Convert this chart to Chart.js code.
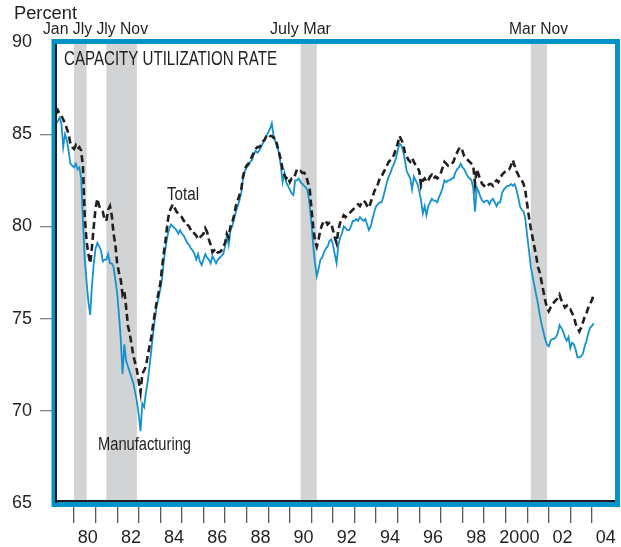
<!DOCTYPE html>
<html>
<head>
<meta charset="utf-8">
<script src="https://cdn.jsdelivr.net/npm/chart.js@4/dist/chart.umd.min.js"></script>
<style>
  html, body { margin: 0; padding: 0; background: #ffffff; }
  canvas { display: block; }
</style>
</head>
<body>
<canvas id="c" width="621" height="547"></canvas>
<script>
// ---- Data (monthly, Mar 1979 .. Feb 2004) ----
const startYear = 1979;
const startMonth = 3;

const totalRate = [
  /*1979*/ 86.1, 86.3, 86.1, 86.0, 85.8, 85.6, 85.3, 85.0, 84.5, 84.3,
  /*1980*/ 84.2, 84.4, 84.2, 84.3, 84.1, 83.2, 80.5, 79.2, 78.5, 78.0, 78.9, 80.0,
  /*1981*/ 81.0, 81.5, 81.1, 80.9, 80.8, 80.4, 80.3, 80.9, 81.1, 80.6, 79.6, 79.0,
  /*1982*/ 78.0, 77.5, 77.1, 76.3, 76.5, 75.6, 74.6, 74.2, 73.6, 73.0, 72.6, 72.2,
  /*1983*/ 71.6, 71.0, 72.0, 72.2, 72.4, 73.0, 73.5, 74.0, 74.7, 75.3, 75.9, 76.4,
  /*1984*/ 76.9, 77.8, 78.6, 79.3, 80.2, 80.8, 81.0, 81.2, 81.0, 80.8, 80.7, 80.6,
  /*1985*/ 80.5, 80.3, 80.3, 80.1, 80.0, 79.8, 79.8, 79.6, 79.5, 79.3, 79.4, 79.5,
  /*1986*/ 79.6, 79.9, 79.7, 79.3, 79.0, 78.6, 78.7, 78.5, 78.6, 78.6, 78.7, 78.9,
  /*1987*/ 79.1, 79.6, 79.4, 80.0, 80.2, 80.6, 81.1, 81.4, 81.7, 82.0, 82.7, 83.1,
  /*1988*/ 83.3, 83.4, 83.6, 83.8, 84.0, 84.2, 84.3, 84.3, 84.4, 84.6, 84.7, 84.9,
  /*1989*/ 85.0, 84.9, 84.9, 84.8, 84.8, 84.4, 84.0, 83.6, 83.1, 82.8, 82.6, 82.7,
  /*1990*/ 82.4, 82.6, 82.6, 82.8, 83.1, 83.0, 83.0, 82.9, 82.9, 82.8, 82.4, 82.1,
  /*1991*/ 81.0, 80.0, 79.2, 78.9, 79.3, 79.8, 80.1, 80.3, 80.3, 80.1, 80.2, 80.2,
  /*1992*/ 79.8, 79.4, 79.1, 79.8, 80.2, 80.4, 80.6, 80.5, 80.6, 80.7, 80.8, 80.9,
  /*1993*/ 81.0, 81.1, 81.2, 81.1, 81.3, 81.4, 81.3, 81.1, 81.0, 81.3, 81.6, 81.9,
  /*1994*/ 82.1, 82.3, 82.6, 82.7, 82.9, 83.1, 83.3, 83.5, 83.6, 83.7, 83.9, 84.2,
  /*1995*/ 84.5, 84.9, 84.7, 84.5, 84.0, 83.8, 83.6, 83.5, 83.7, 83.5, 83.3, 83.2,
  /*1996*/ 83.0, 82.2, 82.5, 82.6, 82.4, 82.5, 82.7, 82.8, 82.6, 82.7, 82.6, 82.7,
  /*1997*/ 82.9, 83.2, 83.5, 83.4, 83.3, 83.4, 83.4, 83.5, 83.8, 84.0, 84.2, 84.3,
  /*1998*/ 84.1, 83.8, 83.7, 83.6, 83.5, 83.4, 83.3, 82.3, 83.1, 82.8, 82.5, 82.3,
  /*1999*/ 82.2, 82.3, 82.2, 82.3, 82.3, 82.2, 82.4, 82.5, 82.4, 82.6, 82.8, 82.9,
  /*2000*/ 83.0, 83.1, 83.1, 83.3, 83.6, 83.3, 83.0, 82.8, 82.6, 82.5, 82.3, 81.9,
  /*2001*/ 81.2, 80.5, 79.9, 79.4, 78.9, 78.4, 77.8, 77.5, 77.0, 76.5, 76.0, 75.6,
  /*2002*/ 75.4, 75.6, 75.7, 75.9, 76.0, 76.1, 76.3, 76.0, 75.8, 75.6, 75.7, 75.5,
  /*2003*/ 75.5, 75.3, 75.1, 74.7, 74.5, 74.3, 74.5, 74.8, 75.1, 75.3, 75.6, 75.8,
  /*2004*/ 76.0, 76.3
];

const mfgRate = [
  /*1979*/ 85.6, 85.7, 85.9, 85.6, 84.3, 85.0, 84.7, 84.1, 83.4, 83.3,
  /*1980*/ 83.2, 83.4, 83.1, 83.2, 82.6, 80.2, 78.2, 77.0, 75.9, 75.2, 76.8, 78.0,
  /*1981*/ 78.8, 79.1, 78.9, 78.7, 78.1, 78.2, 78.2, 78.5, 78.0, 78.0, 77.8, 77.1,
  /*1982*/ 76.4, 75.2, 73.9, 72.0, 73.6, 72.7, 72.4, 72.1, 71.8, 71.5, 71.0, 70.5,
  /*1983*/ 69.8, 68.9, 70.4, 70.2, 71.0, 71.6, 72.4, 73.3, 74.2, 75.0, 75.7, 76.1,
  /*1984*/ 76.6, 77.2, 78.2, 78.9, 79.5, 79.9, 80.1, 80.0, 79.9, 79.8, 79.6, 79.8,
  /*1985*/ 79.6, 79.5, 79.3, 79.1, 79.0, 78.8, 78.7, 78.5, 78.2, 78.5, 78.1, 77.9,
  /*1986*/ 78.2, 78.5, 78.3, 78.2, 78.0, 78.4, 78.2, 78.0, 78.2, 78.3, 78.4, 78.5,
  /*1987*/ 78.9, 79.5, 79.0, 79.8, 80.0, 80.4, 80.8, 81.1, 81.4, 81.8, 82.6, 83.0,
  /*1988*/ 83.2, 83.3, 83.5, 83.6, 83.9, 84.1, 84.0, 84.1, 84.3, 84.5, 84.7, 84.9,
  /*1989*/ 85.1, 85.3, 85.6, 84.9, 84.6, 84.3, 84.0, 83.3, 82.4, 82.9, 82.4, 82.2,
  /*1990*/ 82.0, 81.8, 81.7, 82.5, 82.5, 82.6, 82.4, 82.3, 82.2, 82.1, 81.9, 81.2,
  /*1991*/ 80.2, 79.0, 78.0, 77.3, 77.7, 78.2, 78.3, 78.6, 78.8, 78.9, 79.2, 79.3,
  /*1992*/ 79.0, 78.5, 78.0, 79.0, 79.4, 79.6, 80.0, 79.9, 79.8, 79.8, 80.0, 80.3,
  /*1993*/ 80.3, 80.4, 80.3, 80.5, 80.4, 80.3, 80.4, 80.1, 79.8, 80.0, 80.4, 80.8,
  /*1994*/ 81.1, 81.2, 81.3, 81.3, 81.6, 82.0, 82.4, 82.7, 82.9, 83.2, 83.4, 83.7,
  /*1995*/ 84.1, 84.5, 84.4, 84.1, 83.6, 83.0, 82.8, 82.6, 82.0, 82.7, 82.5, 82.3,
  /*1996*/ 81.9, 81.4, 80.7, 81.1, 80.6, 81.1, 81.3, 81.5, 81.4, 81.4, 81.3, 81.6,
  /*1997*/ 81.8, 82.1, 82.5, 82.4, 82.5, 82.5, 82.6, 82.6, 82.9, 83.1, 83.2, 83.4,
  /*1998*/ 83.2, 83.1, 82.9, 82.7, 82.6, 82.5, 82.1, 80.8, 82.1, 81.9, 81.6, 81.4,
  /*1999*/ 81.3, 81.4, 81.4, 81.2, 81.4, 81.5, 81.3, 81.1, 81.3, 81.3, 81.8, 82.0,
  /*2000*/ 82.1, 82.2, 82.2, 82.3, 82.2, 82.3, 82.0, 81.6, 81.1, 80.9, 80.8, 80.4,
  /*2001*/ 79.5, 78.7, 77.8, 77.3, 76.8, 76.3, 75.8, 75.2, 74.7, 74.3, 73.9, 73.6,
  /*2002*/ 73.5, 73.8, 73.9, 73.9, 74.0, 74.2, 74.65, 74.5, 74.3, 74.0, 73.8, 74.0,
  /*2003*/ 73.4, 73.7, 73.6, 73.3, 72.9, 72.9, 72.95, 73.1, 73.5, 73.8, 74.2, 74.5,
  /*2004*/ 74.6, 74.75
];

// x-axis: year tick marks and labels (labels sit mid-year of even years)
const tickYears = [1980,1981,1982,1983,1984,1985,1986,1987,1988,1989,1990,1991,1992,
                   1993,1994,1995,1996,1997,1998,1999,2000,2001,2002,2003,2004];
const labelYears = [1980,1982,1984,1986,1988,1990,1992,1994,1996,1998,2000,2002,2004];
const xTickLabels = ['80','82','84','86','88','90','92','94','96','98','2000','02','04'];
const yTickValues = [65,70,75,80,85,90];

// recessions (start month, end month inclusive), as [year, month]
const recessionStart = [[1980,1],[1981,7],[1990,7],[2001,3]];
const recessionEnd   = [[1980,7],[1982,11],[1991,3],[2001,11]];

// ---- Build ----
const FONT = '"Liberation Sans", Arial, Helvetica, sans-serif';
const INK = '#231f20';
const BLUE = '#0093c9';

const monthX = totalRate.map((_, i) => startYear + (startMonth - 1 + i) / 12);
const toPoints = arr => arr.map((v, i) => ({ x: monthX[i], y: v }));

const tickValues = [];
tickYears.forEach(y => { tickValues.push(y); if (labelYears.includes(y)) tickValues.push(y + 0.5); });

function fitText(ctx, txt, x, y, size, w) {
  ctx.save();
  ctx.font = size + 'px ' + FONT;
  ctx.fillStyle = INK;
  ctx.textAlign = 'left';
  ctx.textBaseline = 'alphabetic';
  const m = ctx.measureText(txt).width;
  ctx.translate(x, y);
  ctx.scale(w / m, 1);
  ctx.fillText(txt, 0, 0);
  ctx.restore();
}

const framePlugin = {
  id: 'frame',
  beforeDatasetsDraw(chart) {
    const ctx = chart.ctx, ca = chart.chartArea, xs = chart.scales.x;
    ctx.save();
    ctx.fillStyle = '#d1d3d4';
    for (let k = 0; k < recessionStart.length; k++) {
      const a = xs.getPixelForValue(recessionStart[k][0] + (recessionStart[k][1] - 1) / 12);
      const b = xs.getPixelForValue(recessionEnd[k][0] + recessionEnd[k][1] / 12);
      ctx.fillRect(a, ca.top, b - a, ca.bottom - ca.top);
    }
    ctx.restore();
  },
  afterDraw(chart) {
    const ctx = chart.ctx, ca = chart.chartArea;
    ctx.save();
    // blue frame
    ctx.strokeStyle = BLUE;
    ctx.lineWidth = 5;
    ctx.strokeRect(ca.left - 2, ca.top - 0.5, ca.right - ca.left + 4.5, ca.bottom - ca.top + 2);
    // black axis lines
    ctx.fillStyle = INK;
    ctx.fillRect(ca.left - 1, ca.top + 2, 2, ca.bottom - ca.top - 2);
    ctx.fillRect(ca.left - 1, ca.bottom - 3, ca.right - ca.left + 1, 2);
    ctx.restore();
    // texts
    fitText(ctx, 'Percent', 14, 18.5, 18, 63);
    fitText(ctx, 'Jan Jly Jly Nov', 43, 33.5, 16, 105);
    fitText(ctx, 'July Mar', 270, 33.5, 16, 61);
    fitText(ctx, 'Mar Nov', 509, 33.5, 16, 59);
    fitText(ctx, 'CAPACITY UTILIZATION RATE', 64, 65, 20, 213);
    fitText(ctx, 'Total', 167, 200, 18, 32);
    fitText(ctx, 'Manufacturing', 98, 449.5, 18, 93);
  }
};

new Chart(document.getElementById('c'), {
  type: 'line',
  data: {
    datasets: [
      { label: 'Total', data: toPoints(totalRate), borderColor: INK, borderWidth: 2.6,
        borderDash: [7, 4], pointRadius: 0, tension: 0, fill: false, order: 0 },
      { label: 'Manufacturing', data: toPoints(mfgRate), borderColor: '#1592cd', borderWidth: 1.8,
        pointRadius: 0, tension: 0, fill: false, order: 1 }
    ]
  },
  options: {
    responsive: false,
    animation: false,
    devicePixelRatio: 1,
    layout: { padding: { top: 42, right: 6, left: 0, bottom: 0 } },
    plugins: { legend: { display: false }, tooltip: { enabled: false } },
    scales: {
      x: {
        type: 'linear',
        min: 1979.166,
        max: 2005.07,
        afterFit(s) { s.height = 44; },
        afterBuildTicks(s) { s.ticks = tickValues.map(v => ({ value: v })); },
        border: { display: false },
        grid: {
          drawOnChartArea: false, drawTicks: true, tickLength: 20, lineWidth: 1.3,
          color(c) { return (c.tick && Number.isInteger(c.tick.value)) ? '#58595b' : 'rgba(0,0,0,0)'; }
        },
        ticks: {
          autoSkip: false, maxRotation: 0, minRotation: 0, padding: 4, labelOffset: 3,
          color: INK, font: { family: FONT, size: 18 },
          callback(v) {
            const idx = labelYears.indexOf(v - 0.5);
            return idx >= 0 ? xTickLabels[idx] : '';
          }
        }
      },
      y: {
        min: 65,
        max: 90,
        afterFit(s) { s.width = 56; },
        afterBuildTicks(s) { s.ticks = yTickValues.map(v => ({ value: v })); },
        border: { display: false },
        grid: {
          drawOnChartArea: false, drawTicks: true, tickLength: 16, lineWidth: 1.3,
          color(c) { return (c.tick && (c.tick.value === 65 || c.tick.value === 90)) ? 'rgba(0,0,0,0)' : '#808285'; }
        },
        ticks: {
          padding: 8, color: INK, font: { family: FONT, size: 18 },
          callback(v) { return String(v); }
        }
      }
    }
  },
  plugins: [framePlugin]
});
</script>
</body>
</html>
